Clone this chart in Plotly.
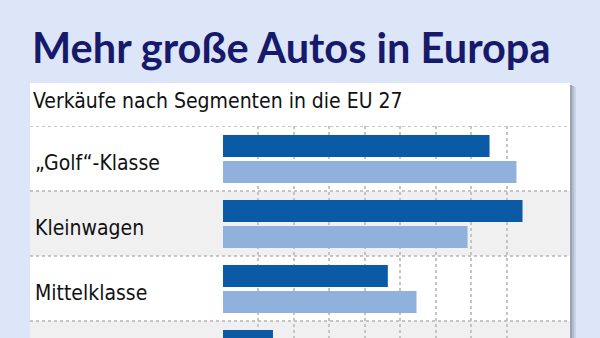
import plotly.graph_objects as go

# ---- data ----
categories = ["\u201eGolf\u201c-Klasse", "Kleinwagen", "Mittelklasse", "Oberklasse"]
series_dark = [7.52, 8.45, 4.65, 1.41]
series_light = [8.28, 6.90, 5.46, 1.20]
series_names = ["2008", "2007"]
title_text = "Mehr große Autos in Europa"
subtitle_text = "Verkäufe nach Segmenten in die EU 27"

W, H = 600, 338
L, R, T, B = 223, 58, 126, 0
PW, PH = W - L - R, H - T - B

def px_x(p):
    return (p - L) / PW

def px_y(p):
    return (H - p) / PH

ROW = 65.0
y_top = -0.5
y_bottom = y_top + PH / ROW

BG = "#dce6f8"
DARK = "#0b5aa6"
LIGHT = "#8fb1dc"
TXT_FONT = "DejaVu Sans Condensed, Roboto"
idx = list(range(len(categories)))

fig = go.Figure()
fig.add_trace(go.Bar(y=idx, x=series_dark, orientation="h", name=series_names[0],
                     marker=dict(color=DARK, line=dict(width=0)),
                     width=22 / ROW, offset=-23.5 / ROW, hoverinfo="x"))
fig.add_trace(go.Bar(y=idx, x=series_light, orientation="h", name=series_names[1],
                     marker=dict(color=LIGHT, line=dict(width=0)),
                     width=22 / ROW, offset=2.5 / ROW, hoverinfo="x"))

shapes = []
for i, c in enumerate(["#9aa3b6", "#b3bccf", "#cad3e6"]):
    shapes.append(dict(type="rect", xref="paper", yref="paper", layer="below",
                       x0=px_x(570 + 2 * i), x1=px_x(572 + 2 * i), y0=-0.2, y1=px_y(85 + i),
                       fillcolor=c, line=dict(width=0)))
shapes.append(dict(type="rect", xref="paper", yref="paper", layer="below",
                   x0=px_x(30), x1=px_x(570), y0=-0.2, y1=px_y(83),
                   fillcolor="white", line=dict(width=0)))
for i in idx:
    if i % 2 == 1:
        shapes.append(dict(type="rect", xref="paper", yref="y", layer="below",
                           x0=px_x(30), x1=px_x(570), y0=i - 0.5, y1=i + 0.5,
                           fillcolor="#f0f0f0", line=dict(width=0)))
for i in idx + [len(idx)]:
    shapes.append(dict(type="line", xref="paper", yref="y", layer="below",
                       x0=px_x(30), x1=px_x(570), y0=i - 0.5, y1=i - 0.5,
                       line=dict(color="#b4b4b4", width=1.5, dash="dot")))

annotations = [
    dict(text=f"<b>{title_text}</b>", xref="paper", yref="paper", x=px_x(30), y=px_y(47),
         xanchor="left", yanchor="middle", showarrow=False,
         font=dict(family="Lato", size=41.5, color="#17196b")),
    dict(text=subtitle_text, xref="paper", yref="paper", x=px_x(31), y=px_y(101),
         xanchor="left", yanchor="middle", showarrow=False,
         font=dict(family=TXT_FONT, size=21, color="#111111")),
]
for i, c in zip(idx, categories):
    annotations.append(dict(text=c, xref="paper", yref="y", x=px_x(33), y=i + 4 / ROW,
                            xanchor="left", yanchor="middle", showarrow=False,
                            font=dict(family=TXT_FONT, size=21, color="#111111")))

fig.update_layout(
    width=W, height=H, margin=dict(l=L, r=R, t=T, b=B, pad=0),
    paper_bgcolor=BG, plot_bgcolor="rgba(0,0,0,0)",
    showlegend=False, barmode="overlay",
    shapes=shapes, annotations=annotations,
    xaxis=dict(range=[0, 9], dtick=1, showgrid=True, gridcolor="#c4c4c4", griddash="dot",
               gridwidth=1.5, showticklabels=False, zeroline=False, showline=False, fixedrange=True),
    yaxis=dict(range=[y_bottom, y_top], showgrid=False, showticklabels=False,
               zeroline=False, showline=False, fixedrange=True),
)
fig.write_html("out.html")
